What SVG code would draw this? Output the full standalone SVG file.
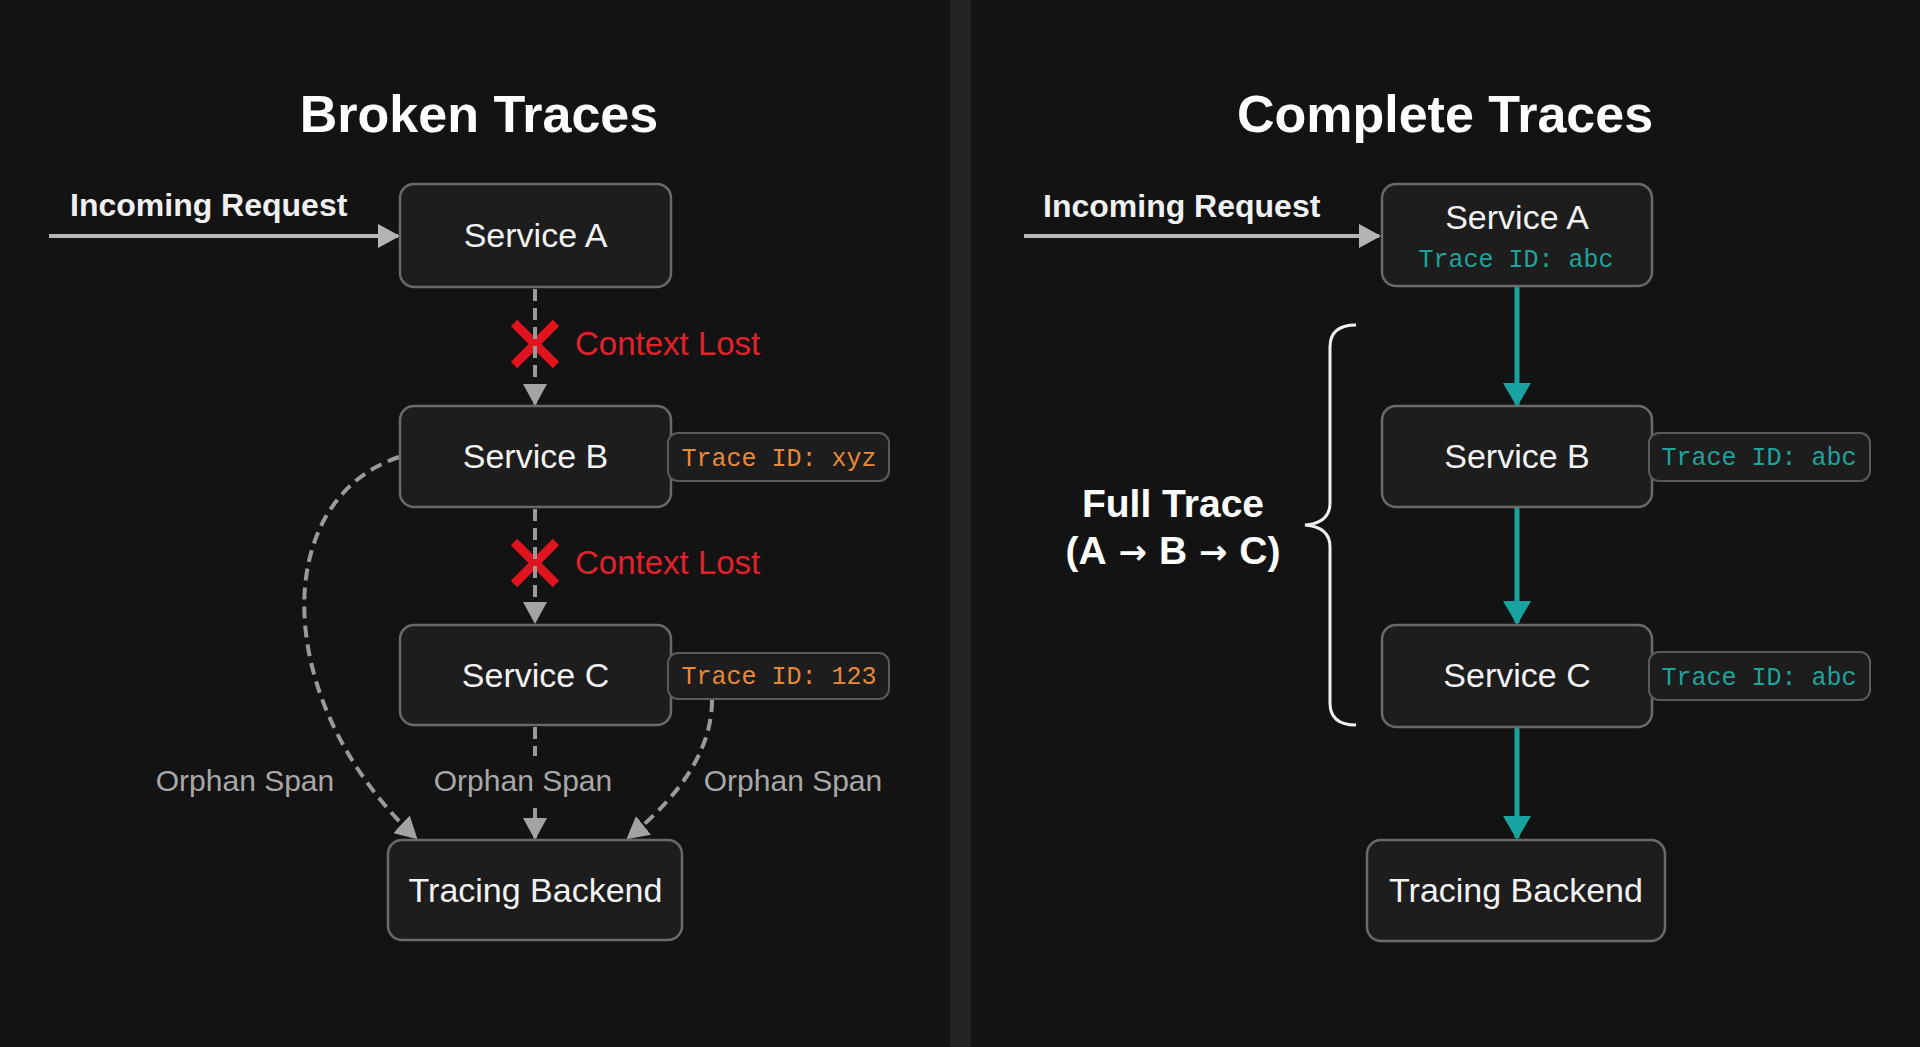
<svg xmlns="http://www.w3.org/2000/svg" width="1920" height="1047" viewBox="0 0 1920 1047">
<defs>
<style>
.bg{fill:#131313}
.box{fill:#1d1d1d;stroke:#6a6a6a;stroke-width:2.5}
.tag{fill:#1d1d1d;stroke:#5a5a5a;stroke-width:2}
.svc{font-family:"Liberation Sans",Arial,sans-serif;font-size:34px;fill:#f2f2f2;text-anchor:middle}
.title{font-family:"Liberation Sans",Arial,sans-serif;font-size:52px;font-weight:700;fill:#ffffff;text-anchor:middle}
.inc{font-family:"Liberation Sans",Arial,sans-serif;font-size:32px;font-weight:700;fill:#f0f0f0}
.lost{font-family:"Liberation Sans",Arial,sans-serif;font-size:33px;fill:#e2222a}
.orph{font-family:"Liberation Sans",Arial,sans-serif;font-size:30px;fill:#a8a8a8;text-anchor:middle}
.tid{font-family:"Liberation Mono","DejaVu Sans Mono",monospace;font-size:25px;text-anchor:middle}
.orange{fill:#e8893a}
.teal{fill:#1fa39c}
.full{font-family:"Liberation Sans","DejaVu Sans",Arial,sans-serif;font-size:39px;font-weight:700;fill:#ffffff;text-anchor:middle}
.arr{font-family:"DejaVu Sans",sans-serif;font-size:34px;font-weight:700}
.dash{fill:none;stroke:#9a9a9a;stroke-width:4;stroke-dasharray:12 7}
.tl{fill:none;stroke:#17a3a0;stroke-width:5}
.xmark{stroke:#e0141e;stroke-width:9;stroke-linecap:butt}
</style>
<marker id="ag" markerUnits="userSpaceOnUse" markerWidth="24" markerHeight="24" refX="20" refY="12" orient="auto">
<path d="M0,0 L22,12 L0,24 Z" fill="#a3a3a3"/>
</marker>
<marker id="at" markerUnits="userSpaceOnUse" markerWidth="28" markerHeight="28" refX="22" refY="14" orient="auto">
<path d="M0,0 L24,14 L0,28 Z" fill="#17a3a0"/>
</marker>
<marker id="ai" markerUnits="userSpaceOnUse" markerWidth="24" markerHeight="24" refX="20" refY="12" orient="auto">
<path d="M0,0 L22,12 L0,24 Z" fill="#b4b4b4"/>
</marker>
</defs>

<rect class="bg" x="0" y="0" width="1920" height="1047"/>
<rect x="950" y="0" width="21" height="1047" fill="#232323"/>

<text class="title" x="479" y="132">Broken Traces</text>
<text class="title" x="1445" y="132">Complete Traces</text>

<g id="x-marks">
<line class="xmark" x1="514" y1="323" x2="556" y2="365"/>
<line class="xmark" x1="556" y1="323" x2="514" y2="365"/>
<line class="xmark" x1="514" y1="542" x2="556" y2="584"/>
<line class="xmark" x1="556" y1="542" x2="514" y2="584"/>
</g>

<g id="connectors">
<line x1="49" y1="236" x2="398" y2="236" stroke="#b8b8b8" stroke-width="4" marker-end="url(#ai)"/>
<line class="dash" x1="535" y1="289" x2="535" y2="404" marker-end="url(#ag)"/>
<line class="dash" x1="535" y1="509" x2="535" y2="622" marker-end="url(#ag)"/>
<line class="dash" x1="535" y1="727" x2="535" y2="756"/>
<line class="dash" x1="535" y1="808" x2="535" y2="838" marker-end="url(#ag)"/>
<path class="dash" d="M399 457 C270 500 270 700 416 838" marker-end="url(#ag)"/>
<path class="dash" d="M712 700 Q712 770 628 838" marker-end="url(#ag)"/>

<line x1="1024" y1="236" x2="1379" y2="236" stroke="#b8b8b8" stroke-width="4" marker-end="url(#ai)"/>
<line class="tl" x1="1517" y1="287" x2="1517" y2="405" marker-end="url(#at)"/>
<line class="tl" x1="1517" y1="508" x2="1517" y2="623" marker-end="url(#at)"/>
<line class="tl" x1="1517" y1="728" x2="1517" y2="838" marker-end="url(#at)"/>
<path d="M1356 325 Q1330 325 1330 347 L1330 503 Q1330 523 1305 525 Q1330 527 1330 547 L1330 703 Q1330 725 1356 725" fill="none" stroke="#f0f0f0" stroke-width="3"/>
</g>

<g id="label-incoming-left"><text class="inc" x="70" y="216">Incoming Request</text></g>
<g id="label-lost-1"><text class="lost" x="575" y="355">Context Lost</text></g>
<g id="label-lost-2"><text class="lost" x="575" y="574">Context Lost</text></g>
<g id="label-orphans">
<text class="orph" x="245" y="791">Orphan Span</text>
<text class="orph" x="523" y="791">Orphan Span</text>
<text class="orph" x="793" y="791">Orphan Span</text>
</g>

<g id="left-service-a">
<rect class="box" x="400" y="184" width="271" height="103" rx="14"/>
<text class="svc" x="535.5" y="247">Service A</text>
</g>
<g id="left-service-b">
<rect class="box" x="400" y="406" width="271" height="101" rx="14"/>
<text class="svc" x="535.5" y="468">Service B</text>
</g>
<g id="left-tag-b">
<rect class="tag" x="668" y="433" width="221" height="48" rx="10"/>
<text class="tid orange" x="779" y="466">Trace ID: xyz</text>
</g>
<g id="left-service-c">
<rect class="box" x="400" y="625" width="271" height="100" rx="14"/>
<text class="svc" x="535.5" y="687">Service C</text>
</g>
<g id="left-tag-c">
<rect class="tag" x="668" y="653" width="221" height="46" rx="10"/>
<text class="tid orange" x="779" y="684">Trace ID: 123</text>
</g>
<g id="left-backend">
<rect class="box" x="388" y="840" width="294" height="100" rx="14"/>
<text class="svc" x="535.5" y="902">Tracing Backend</text>
</g>

<g id="label-incoming-right"><text class="inc" x="1043" y="217">Incoming Request</text></g>
<g id="label-full-trace">
<text class="full" x="1173" y="517">Full Trace</text>
<text class="full" x="1173" y="564">(A<tspan class="arr"> → </tspan>B<tspan class="arr"> → </tspan>C)</text>
</g>

<g id="right-service-a">
<rect class="box" x="1382" y="184" width="270" height="102" rx="14"/>
<text class="svc" x="1517" y="229">Service A</text>
<text class="tid teal" x="1516" y="267">Trace ID: abc</text>
</g>
<g id="right-service-b">
<rect class="box" x="1382" y="406" width="270" height="101" rx="14"/>
<text class="svc" x="1517" y="468">Service B</text>
</g>
<g id="right-tag-b">
<rect class="tag" x="1649" y="433" width="221" height="48" rx="10"/>
<text class="tid teal" x="1759" y="465">Trace ID: abc</text>
</g>
<g id="right-service-c">
<rect class="box" x="1382" y="625" width="270" height="102" rx="14"/>
<text class="svc" x="1517" y="687">Service C</text>
</g>
<g id="right-tag-c">
<rect class="tag" x="1649" y="652" width="221" height="48" rx="10"/>
<text class="tid teal" x="1759" y="685">Trace ID: abc</text>
</g>
<g id="right-backend">
<rect class="box" x="1367" y="840" width="298" height="101" rx="14"/>
<text class="svc" x="1516" y="902">Tracing Backend</text>
</g>
</svg>
